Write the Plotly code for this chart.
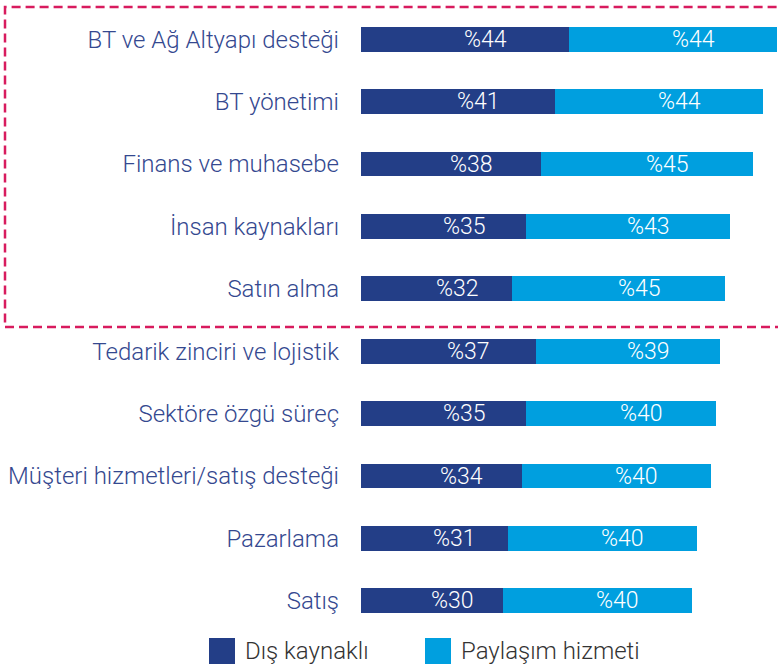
import plotly.graph_objects as go

categories = [
    "BT ve Ağ Altyapı desteği",
    "BT yönetimi",
    "Finans ve muhasebe",
    "İnsan kaynakları",
    "Satın alma",
    "Tedarik zinciri ve lojistik",
    "Sektöre özgü süreç",
    "Müşteri hizmetleri/satış desteği",
    "Pazarlama",
    "Satış",
]
dis_kaynakli = [44, 41, 38, 35, 32, 37, 35, 34, 31, 30]
paylasim = [44, 44, 45, 43, 45, 39, 40, 40, 40, 40]
series_names = ["Dış kaynaklı", "Paylaşım hizmeti"]

DARK = "#233e87"
LIGHT = "#009fdf"
LABEL = "#34488f"
FONT = "Roboto"

W, H = 778, 668
ML, MR, MT, MB = 361, 1, 8, 36
PW, PH = W - ML - MR, H - MT - MB

def px_x(px):
    return (px - ML) / PW

def px_y(py):
    return (H - MB - py) / PH

fig = go.Figure()
fig.add_trace(go.Bar(y=categories, x=dis_kaynakli, orientation="h", name=series_names[0],
                     marker=dict(color=DARK, line=dict(width=0)), width=0.4, showlegend=False))
fig.add_trace(go.Bar(y=categories, x=paylasim, orientation="h", name=series_names[1],
                     marker=dict(color=LIGHT, line=dict(width=0)), width=0.4, showlegend=False))

annotations = []
for c, a, b in zip(categories, dis_kaynakli, paylasim):
    for base, v in ((0, a), (a, b)):
        annotations.append(dict(x=base + v / 2, y=c, xref="x", yref="y", text=f"%{v}",
                                showarrow=False, xanchor="left", xshift=-3, yshift=0,
                                font=dict(family=FONT, size=23, color="white", weight=300)))

# legend drawn manually
shapes = []
leg = [(series_names[0], DARK, 209), (series_names[1], LIGHT, 425)]
for name, col, x0 in leg:
    shapes.append(dict(type="rect", xref="paper", yref="paper",
                       x0=px_x(x0), x1=px_x(x0 + 26), y0=px_y(664), y1=px_y(638),
                       fillcolor=col, line=dict(width=0)))
    annotations.append(dict(x=px_x(x0 + 34), y=px_y(651), xref="paper", yref="paper",
                            text=name, showarrow=False, xanchor="left", yanchor="middle",
                            font=dict(family=FONT, size=24, color="#333333", weight=300)))

# dashed highlight box around the first five categories
shapes.append(dict(type="rect", xref="paper", yref="paper",
                   x0=px_x(5), x1=1.05, y0=px_y(327), y1=px_y(7),
                   line=dict(color="#d81b5e", width=2.5, dash="9px,5px"),
                   fillcolor="rgba(0,0,0,0)", layer="above"))

fig.update_layout(
    barmode="stack",
    width=W, height=H,
    margin=dict(l=ML, r=MR, t=MT, b=MB),
    paper_bgcolor="white", plot_bgcolor="white",
    annotations=annotations,
    shapes=shapes,
    showlegend=False,
    font=dict(family=FONT),
)
fig.update_xaxes(range=[0, 88], visible=False, fixedrange=True)
fig.update_yaxes(type="category", categoryorder="array", categoryarray=categories,
                 range=[9.5, -0.5], showgrid=False, zeroline=False, showline=False, ticks="",
                 ticklabelstandoff=21, fixedrange=True,
                 tickfont=dict(family=FONT, size=24, color=LABEL, weight=300))

fig.write_html("out.html", config={"displayModeBar": False},
               post_script="document.body.style.margin='0px';")
